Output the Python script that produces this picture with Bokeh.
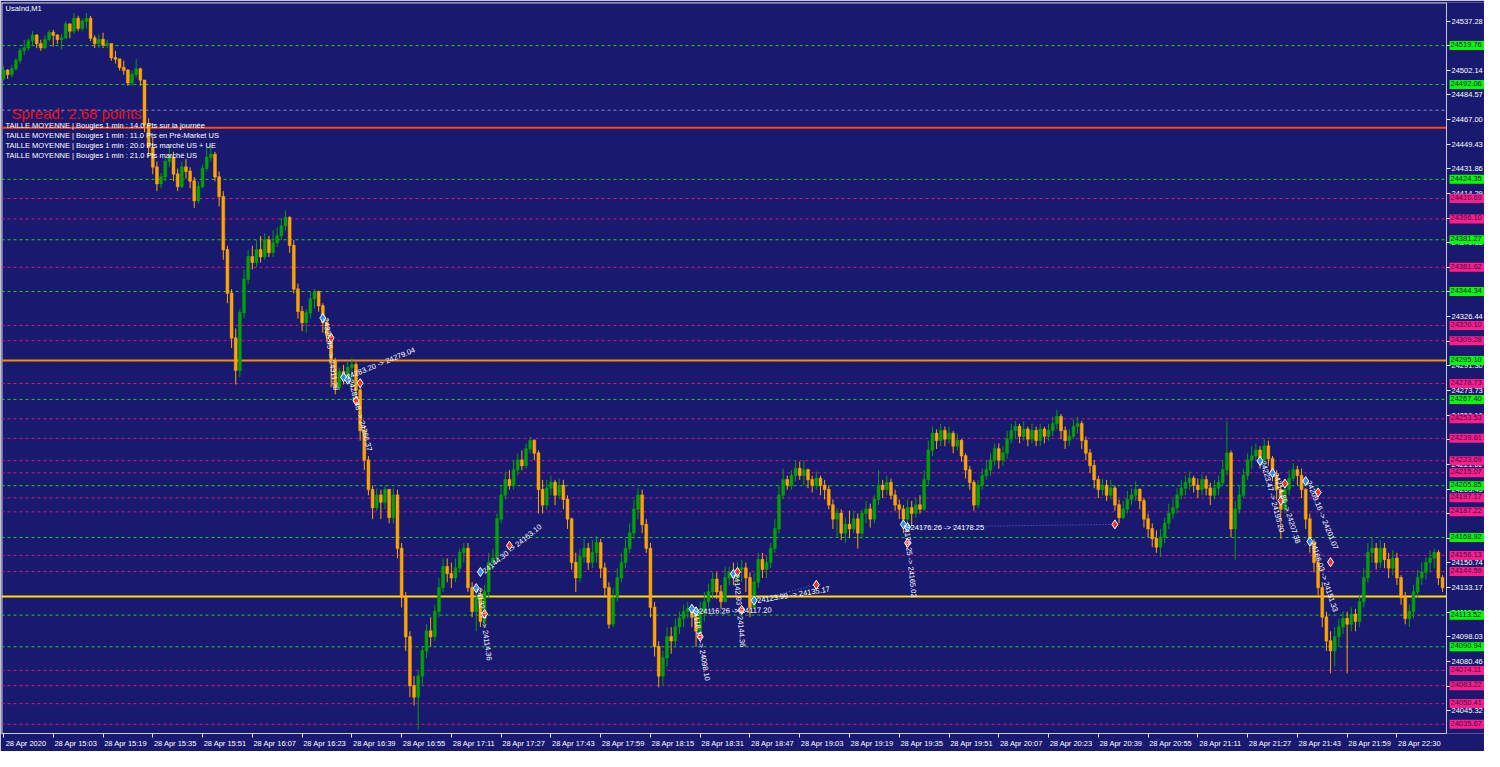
from bokeh.plotting import figure
from bokeh.models import Range1d, FixedTicker, Label, LinearAxis, CustomJSTickFormatter
from bokeh.embed import file_html
from bokeh.resources import INLINE

# ---------------- data ----------------
first_open = 24496.0
closes = [
 24502,24499,24503,24509,24516,24518,24523,24527,24521,24518,24524,24529,
 24527,24524,24525,24535,24530,24539,24532,24537,24539,24525,24521,24524,
 24520,24521,24511,24510,24504,24502,24493,24499,24503,24495,24463,24447,
 24433,24421,24426,24437,24440,24428,24419,24433,24430,24423,24409,24419,
 24432,24440,24442,24426,24412,24374,24343,24311,24288,24329,24353,24369,
 24365,24374,24369,24381,24372,24379,24384,24391,24397,24377,24346,24330,
 24322,24329,24339,24344,24334,24322,24313,24295,24276,24287,24283,24290,
 24292,24274,24245,24224,24203,24190,24199,24194,24203,24183,24199,24161,
 24126,24098,24063,24055,24070,24088,24102,24098,24116,24133,24148,24143,
 24140,24147,24158,24161,24133,24116,24126,24109,24130,24151,24154,24182,
 24199,24210,24206,24217,24224,24220,24232,24238,24229,24203,24192,24204,
 24208,24199,24206,24196,24182,24151,24140,24155,24161,24151,24158,24165,
 24147,24133,24107,24126,24140,24151,24161,24172,24189,24199,24178,24161,
 24119,24091,24070,24083,24098,24095,24105,24111,24116,24118,24112,24102,
 24116,24123,24130,24139,24130,24123,24140,24144,24140,24146,24147,24140,
 24119,24137,24153,24146,24151,24161,24175,24199,24210,24206,24213,24218,
 24213,24217,24210,24206,24211,24206,24203,24192,24182,24186,24172,24178,
 24175,24182,24172,24186,24189,24182,24196,24206,24203,24208,24199,24192,
 24189,24182,24190,24186,24192,24189,24210,24231,24243,24238,24245,24239,
 24243,24234,24238,24227,24217,24208,24192,24206,24213,24217,24224,24232,
 24224,24229,24239,24245,24248,24241,24246,24239,24245,24238,24246,24241,
 24245,24250,24255,24245,24238,24241,24248,24250,24238,24229,24220,24210,
 24203,24206,24199,24204,24192,24183,24189,24196,24199,24203,24195,24182,
 24175,24168,24162,24169,24179,24186,24190,24199,24204,24208,24211,24206,
 24203,24210,24204,24199,24204,24208,24217,24229,24175,24189,24199,24213,
 24224,24227,24231,24224,24234,24225,24213,24203,24189,24203,24211,24217,
 24213,24203,24182,24165,24151,24133,24112,24095,24088,24098,24105,24111,
 24107,24114,24109,24123,24140,24158,24161,24151,24161,24153,24147,24154,
 24140,24126,24111,24116,24130,24140,24144,24151,24154,24158,24140,24133,
]
highs = [
 24505,24503,24506,24511,24518,24524,24525,24530,24528,24524,24527,24531,
 24531,24528,24528,24537,24534,24543,24541,24539,24543,24541,24527,24528,
 24529,24524,24521,24516,24510,24509,24503,24502,24510,24504,24493,24468,
 24454,24437,24429,24440,24447,24444,24432,24437,24439,24433,24426,24423,
 24435,24447,24449,24444,24430,24416,24377,24346,24318,24332,24360,24374,
 24377,24381,24384,24386,24384,24388,24390,24397,24402,24398,24381,24350,
 24334,24332,24344,24346,24345,24336,24325,24315,24297,24290,24292,24295,
 24297,24294,24276,24248,24227,24206,24204,24203,24206,24203,24204,24203,
 24165,24130,24102,24070,24074,24091,24107,24112,24121,24140,24154,24154,
 24151,24154,24161,24165,24165,24137,24133,24133,24135,24158,24161,24186,
 24206,24216,24217,24224,24229,24231,24236,24241,24239,24231,24210,24210,
 24213,24210,24211,24210,24199,24183,24158,24161,24168,24165,24167,24170,
 24168,24151,24137,24133,24147,24158,24168,24179,24196,24204,24203,24182,
 24165,24123,24095,24088,24105,24105,24111,24116,24121,24123,24119,24116,
 24123,24130,24136,24144,24144,24135,24148,24148,24151,24151,24153,24151,
 24144,24144,24158,24158,24156,24165,24182,24206,24218,24213,24217,24224,
 24223,24224,24218,24213,24216,24213,24210,24206,24196,24190,24189,24183,
 24188,24188,24186,24189,24195,24193,24199,24217,24210,24213,24211,24203,
 24196,24192,24196,24195,24197,24199,24217,24238,24248,24246,24250,24248,
 24248,24245,24243,24239,24229,24220,24210,24210,24218,24224,24229,24236,
 24236,24234,24245,24250,24252,24250,24252,24248,24250,24248,24250,24248,
 24250,24255,24260,24257,24248,24246,24253,24255,24252,24241,24232,24224,
 24213,24211,24210,24210,24206,24196,24195,24202,24204,24209,24204,24197,
 24186,24179,24174,24175,24183,24193,24196,24204,24210,24213,24216,24213,
 24211,24214,24213,24208,24210,24213,24224,24252,24231,24195,24206,24218,
 24229,24234,24236,24234,24239,24238,24227,24217,24206,24210,24217,24222,
 24220,24218,24204,24186,24168,24154,24137,24116,24102,24105,24111,24116,
 24116,24119,24118,24128,24147,24165,24169,24165,24167,24165,24158,24160,
 24158,24142,24130,24121,24135,24146,24151,24155,24160,24161,24160,24142,
]
lows = [
 24495,24496,24497,24502,24507,24513,24516,24520,24518,24516,24517,24523,
 24519,24521,24517,24525,24525,24528,24530,24530,24532,24523,24518,24518,
 24518,24518,24509,24507,24502,24499,24491,24491,24497,24491,24458,24440,
 24428,24416,24418,24423,24433,24423,24416,24418,24425,24418,24404,24407,
 24418,24430,24437,24423,24405,24367,24336,24304,24278,24283,24325,24350,
 24360,24362,24365,24367,24369,24369,24376,24381,24388,24372,24343,24325,
 24316,24315,24325,24332,24330,24315,24308,24276,24271,24274,24278,24278,
 24276,24266,24238,24217,24199,24182,24188,24182,24189,24179,24179,24154,
 24119,24088,24055,24049,24032,24063,24083,24091,24095,24112,24130,24137,
 24133,24137,24144,24151,24130,24112,24102,24105,24105,24126,24146,24151,
 24179,24196,24203,24203,24213,24217,24218,24229,24224,24186,24186,24189,
 24199,24192,24196,24189,24175,24146,24130,24137,24151,24146,24147,24151,
 24140,24126,24104,24105,24123,24137,24147,24158,24168,24182,24172,24158,
 24112,24084,24062,24063,24077,24086,24091,24100,24105,24111,24105,24091,
 24100,24109,24119,24125,24125,24118,24126,24135,24135,24135,24137,24130,
 24112,24128,24133,24140,24140,24147,24158,24172,24196,24203,24203,24209,
 24210,24206,24204,24201,24203,24199,24196,24189,24175,24169,24167,24165,
 24169,24172,24161,24168,24179,24176,24179,24192,24197,24199,24196,24188,
 24182,24172,24179,24177,24183,24186,24188,24206,24227,24232,24234,24234,
 24236,24229,24231,24223,24211,24203,24188,24190,24203,24210,24213,24220,
 24218,24220,24225,24236,24239,24236,24238,24234,24236,24234,24234,24236,
 24238,24241,24246,24239,24232,24234,24239,24243,24232,24224,24215,24204,
 24197,24199,24195,24196,24188,24179,24182,24186,24192,24195,24189,24176,
 24169,24162,24158,24155,24165,24175,24182,24186,24196,24199,24203,24201,
 24197,24199,24199,24192,24196,24199,24206,24213,24169,24153,24186,24197,
 24210,24218,24224,24218,24220,24220,24209,24196,24168,24186,24199,24209,
 24206,24197,24175,24158,24144,24126,24105,24088,24072,24077,24091,24100,
 24072,24102,24102,24105,24119,24137,24151,24146,24147,24147,24140,24142,
 24135,24121,24107,24105,24111,24126,24135,24139,24144,24147,24135,24130,
]

time_labels = ["28 Apr 2020", "28 Apr 15:03", "28 Apr 15:19", "28 Apr 15:35", "28 Apr 15:51",
               "28 Apr 16:07", "28 Apr 16:23", "28 Apr 16:39", "28 Apr 16:55", "28 Apr 17:11",
               "28 Apr 17:27", "28 Apr 17:43", "28 Apr 17:59", "28 Apr 18:15", "28 Apr 18:31",
               "28 Apr 18:47", "28 Apr 19:03", "28 Apr 19:19", "28 Apr 19:35", "28 Apr 19:51",
               "28 Apr 20:07", "28 Apr 20:23", "28 Apr 20:39", "28 Apr 20:55", "28 Apr 21:11",
               "28 Apr 21:27", "28 Apr 21:43", "28 Apr 21:59", "28 Apr 22:30"]
bars_per_label = 12

price_ticks = [24045.32, 24062.89, 24080.46, 24098.03, 24115.60, 24133.17, 24150.74, 24168.31,
               24185.88, 24203.45, 24221.02, 24238.59, 24256.16, 24273.73, 24291.30, 24308.87,
               24326.44, 24344.01, 24361.58, 24379.15, 24396.72, 24414.29, 24431.86, 24449.43,
               24467.00, 24484.57, 24502.14, 24519.71, 24537.28]

green_levels = [24519.76, 24492.06, 24424.35, 24381.27, 24344.34, 24295.10, 24267.40,
                24205.85, 24168.92, 24113.52, 24090.94]
pink_levels = [24410.69, 24396.10, 24361.62, 24320.10, 24309.28, 24278.73, 24253.53, 24239.61,
               24223.69, 24215.07, 24197.17, 24187.22, 24156.13, 24144.59, 24074.11, 24063.22,
               24050.41, 24035.67]
lavender_levels = [24473.7]
red_line = 24461.2
orange_line = 24295.10
yellow_line = 24126.8

# trades: entry bar, entry price, exit bar, exit price
trade_entry_bar = [77, 82, 83, 115, 114, 167, 166, 176, 181, 218, 217, 303, 306, 314, 315]
trade_entry_px = [24325.45, 24283.20, 24281.48, 24144.30, 24132.77, 24116.26, 24118.10, 24142.93,
                  24123.99, 24176.26, 24178.25, 24223.47, 24214.85, 24209.16, 24166.03]
trade_exit_bar = [79, 86, 85, 122, 116, 178, 168, 177, 196, 268, 218, 308, 309, 317, 320]
trade_exit_px = [24311.28, 24279.04, 24266.37, 24163.10, 24114.36, 24117.20, 24098.10, 24144.36,
                 24135.17, 24178.25, 24165.02, 24195.20, 24207.38, 24201.07, 24151.33]
trade_text_angle = [-82, 22, -75, 39, -82, 1, -80, -85, 9, 0, -84, -75, -72, -68, -72]

info_lines = ["TAILLE MOYENNE | Bougies 1 min : 14.0 Pts sur la journée",
              "TAILLE MOYENNE | Bougies 1 min : 11.0 Pts en Pré-Market US",
              "TAILLE MOYENNE | Bougies 1 min : 20.0 Pts marché US + UE",
              "TAILLE MOYENNE | Bougies 1 min : 21.0 Pts marché US"]

# ---------------- build ----------------
BG = "#191970"
FONT = "Liberation Sans"
FS = "7.5px"
n = len(closes)
xs = list(range(n))
opens = [first_open] + closes[:-1]
hi = [max(h, o, c) for h, o, c in zip(highs, opens, closes)]
lo = [min(l, o, c) for l, o, c in zip(lows, opens, closes)]

x0, AX, x_end = -0.48, 347.96, 357.12   # AX: where the price scale sits
y0, y1 = 24029.1, 24550.5
p = figure(width=1484, height=751, output_backend="svg", toolbar_location=None,
           x_range=Range1d(x0, x_end), y_range=Range1d(y0, y1), y_axis_location="right",
           background_fill_color=BG, border_fill_color=BG,
           min_border_left=1, min_border_top=2, min_border_right=0, min_border_bottom=18,
           outline_line_color=None)
p.grid.visible = False

GREY = "#C8C8D0"
# price scale, placed at the plot edge
yax = p.yaxis[0]
yax.fixed_location = AX
yax.ticker = FixedTicker(ticks=price_ticks)
yax.formatter = CustomJSTickFormatter(code="return tick.toFixed(2);")
yax.axis_line_color = GREY
yax.major_tick_line_color = "#E8E8E8"
yax.minor_tick_line_color = None
yax.major_tick_out = 4
yax.major_tick_in = 0
yax.major_label_standoff = 1
yax.major_label_text_color = "white"
yax.major_label_text_font = FONT
yax.major_label_text_font_size = FS

# time scale: tick marks
xax = p.xaxis[0]
tick_pos = [i * bars_per_label for i in range(len(time_labels))]
xax.ticker = FixedTicker(ticks=tick_pos)
xax.bounds = (x0, AX)
xax.formatter = CustomJSTickFormatter(code="return '';")
xax.axis_line_color = GREY
xax.major_tick_line_color = "#E8E8E8"
xax.minor_tick_line_color = None
xax.major_tick_out = 4
xax.major_tick_in = 0
xax.major_label_standoff = 0
xax.major_label_text_font_size = "1px"

# time scale: labels, written to the right of each tick
shift = 5.45
lab_ax = LinearAxis(ticker=FixedTicker(ticks=[t + shift for t in tick_pos]),
                    formatter=CustomJSTickFormatter(args=dict(labels=time_labels, step=bars_per_label, shift=shift),
                                                    code="return labels[Math.round((tick - shift) / step)];"),
                    axis_line_color=None, major_tick_line_color=None, minor_tick_line_color=None,
                    major_tick_out=0, major_tick_in=0, major_label_standoff=1,
                    major_label_text_color="white", major_label_text_font=FONT,
                    major_label_text_font_size=FS)
p.add_layout(lab_ax, "below")

# plot border (top, left)
p.segment(x0=[x0, x0], y0=[y1, y0], x1=[AX, x0], y1=[y1, y1], line_color=GREY, line_width=2)

# level lines
p.segment(x0=x0, x1=AX, y0=lavender_levels, y1=lavender_levels, line_color="#8C8CE6", line_dash="3 3", line_width=1)
p.segment(x0=x0, x1=AX, y0=green_levels, y1=green_levels, line_color="#1ED21E", line_dash="3 3", line_width=1)
p.segment(x0=x0, x1=AX, y0=pink_levels, y1=pink_levels, line_color="#D8177E", line_dash="3 3", line_width=1)
p.segment(x0=x0, x1=AX, y0=red_line, y1=red_line, line_color="#FF4A10", line_width=2)
p.segment(x0=x0, x1=AX, y0=orange_line, y1=orange_line, line_color="#FF8C00", line_width=2)
p.segment(x0=x0, x1=AX, y0=yellow_line, y1=yellow_line, line_color="#FFE000", line_width=2)

# candles
up_col, dn_col = "#00A000", "#FFA500"
cols = [up_col if c >= o else dn_col for o, c in zip(opens, closes)]
p.segment(x0=xs, y0=lo, x1=xs, y1=hi, color=cols, line_width=1)
p.vbar(x=xs, bottom=[min(o, c) for o, c in zip(opens, closes)],
       top=[max(o, c) + 0.3 for o, c in zip(opens, closes)], width=0.7,
       fill_color=cols, line_color=cols, line_width=0.5)

# trades: dotted link, markers, descriptions
p.segment(x0=trade_entry_bar, y0=trade_entry_px, x1=trade_exit_bar, y1=trade_exit_px,
          line_color="#5A78D2", line_dash="1 2", line_width=1)
p.scatter(trade_entry_bar, trade_entry_px, marker="diamond", size=9,
          fill_color="#2E8BFF", line_color="white", line_width=1)
p.scatter(trade_exit_bar, trade_exit_px, marker="diamond", size=9,
          fill_color="#FF3020", line_color="white", line_width=1)
for eb, ep, xb, xp, ang in zip(trade_entry_bar, trade_entry_px, trade_exit_bar, trade_exit_px, trade_text_angle):
    p.add_layout(Label(x=eb, y=ep, text=f"{ep:.2f} -> {xp:.2f}", angle=ang, angle_units="deg",
                       text_color="white", text_font=FONT, text_font_size=FS,
                       text_align="left", text_baseline="middle", x_offset=3))

# price boxes on the scale
for lv in green_levels:
    p.add_layout(Label(x=AX, y=lv, x_offset=3, text=f"{lv:.2f}", text_color="#0A0A40",
                       text_font=FONT, text_font_size=FS, text_baseline="middle",
                       background_fill_color="#00FF00", padding=(1, 3, 1, 3)))
for lv in pink_levels:
    p.add_layout(Label(x=AX, y=lv, x_offset=3, text=f"{lv:.2f}", text_color="#3A0A40",
                       text_font=FONT, text_font_size=FS, text_baseline="middle",
                       background_fill_color="#FF1E8C", padding=(1, 3, 1, 3)))

# texts
p.add_layout(Label(x=x0, y=y1, x_offset=4, y_offset=-6, text="UsaInd,M1", text_color="white",
                   text_font=FONT, text_font_size=FS, text_baseline="middle"))
p.add_layout(Label(x=x0, y=y1, x_offset=10, y_offset=-111, text="Spread: 2.68 points",
                   text_color="#F01010", text_font=FONT, text_font_size="15px", text_baseline="middle"))
for i, s in enumerate(info_lines):
    p.add_layout(Label(x=x0, y=y1, x_offset=4, y_offset=-(123 + 10 * i), text=s, text_color="white",
                       text_font=FONT, text_font_size=FS, text_baseline="middle"))

open("out.html", "w").write(file_html(p, INLINE))
